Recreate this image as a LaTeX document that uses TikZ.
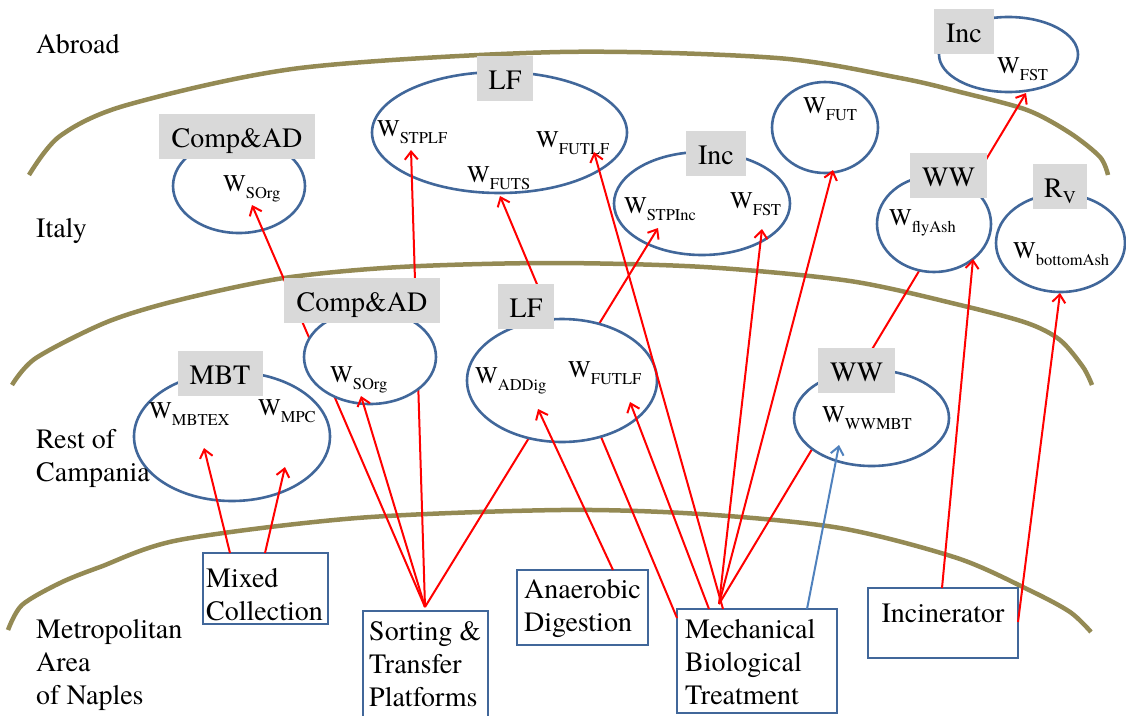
\documentclass[tikz,border=0pt]{standalone}
\usepackage{fontspec}
\setmainfont{texgyretermes}[Extension=.otf, UprightFont=*-regular, BoldFont=*-bold, ItalicFont=*-italic, BoldItalicFont=*-bolditalic]
\usetikzlibrary{shapes.geometric,arrows.meta,calc}

\definecolor{zoneline}{HTML}{948A54}
\definecolor{poolblue}{HTML}{41679A}
\definecolor{flowred}{HTML}{FF0000}
\definecolor{flowblue}{HTML}{4F81BD}
\definecolor{tagfill}{HTML}{D9D9D9}

% waste stream symbol with a subscript
\newcommand{\Wv}[1]{W\raisebox{-7.5pt}{\fontsize{16.5}{18}\selectfont #1}}
% stacked lines, baseline at the first line
\newcommand{\lines}[1]{\begin{tabular}[t]{@{}l@{}}#1\end{tabular}}

\tikzset{
  zone/.style={draw=zoneline, line width=4.5pt},
  pool/.style={ellipse, draw=poolblue, line width=2.6pt, fill=white, inner sep=0pt, outer sep=0pt},
  tag/.style={fill=tagfill, inner sep=0pt, minimum height=45pt, text height=22pt, text depth=0pt,
    font=\rmfamily\fontsize{28}{33}\selectfont},
  plant/.style={draw=poolblue, line width=2.6pt, fill=white, inner sep=0pt, outer sep=0pt, anchor=north west},
  qty/.style={anchor=base west, inner sep=0pt, font=\rmfamily\fontsize{24}{28}\selectfont},
  txt/.style={anchor=base west, inner sep=0pt, font=\rmfamily\fontsize{28}{33}\selectfont},
  flow/.style={draw=flowred, line width=2pt, -{Straight Barb[length=8pt,width=13pt]}},
  flowb/.style={flow, draw=flowblue},
}

\begin{document}
\begin{tikzpicture}[x=1pt,y=-1pt]
\useasboundingbox (0,0) rectangle (1126,715);
\clip (0,0) rectangle (1126,715);

% ---- zone borders ----
\draw[zone] plot[smooth,tension=0.5] coordinates {(29,175) (60,136) (127,105) (300,68) (560,52) (777,58) (900,78) (960,92) (1027,110) (1070,133) (1100,157) (1108,175)};
\draw[zone] plot[smooth,tension=0.5] coordinates {(12,385) (36,358) (107,322) (179,300) (284,278) (400,267) (550,263) (704,267) (850,281) (960,305) (1027,323) (1060,340) (1083,367) (1092,385)};
\draw[zone] plot[smooth,tension=0.5] coordinates {(8,630) (22,605) (60,583) (100,567) (179,540) (357,518) (560,510) (700,514) (840,528) (957,558) (1029,590) (1070,612) (1091,632)};

% ---- plants ----
\node[plant, minimum width=125pt, minimum height=71pt]  (mixed)   at (203,553) {};
\node[plant, minimum width=125pt, minimum height=112pt] (sorting) at (363,611) {};
\node[plant, minimum width=131pt, minimum height=75pt]  (anaer)   at (517,570) {};
\node[plant, minimum width=160pt, minimum height=104pt] (mbt)     at (677,609) {};
\node[plant, minimum width=150pt, minimum height=70pt]  (incin)   at (868,588) {};

\node[txt] (mixed-t)   at (206,587) {\lines{Mixed\\Collection}};
\node[txt] (sorting-t) at (369,640) {\lines{Sorting \&\\Transfer\\Platforms}};
\node[txt] (anaer-t)   at (524,598) {\lines{Anaerobic\\Digestion}};
\node[txt] (mbt-t)     at (685,638) {\lines{Mechanical\\Biological\\Treatment}};
\node[txt, anchor=base] (incin-t) at (943,622) {Incinerator};

\coordinate (sortHub) at ($(sorting.north west)+(62,-4)$);
\coordinate (mbtHub)  at ($(mbt.north west)+(42,-5)$);

% ---- arrow targets ----
\coordinate (tMBTEX)  at (204,448);
\coordinate (tMPC)    at (285,467);
\coordinate (tSOrgI)  at (252,205);
\coordinate (tSOrgR)  at (361,396);
\coordinate (tSTPLF)  at (411,150);
\coordinate (tSTPInc) at (658,228);
\coordinate (tFUTS)   at (500,196);
\coordinate (tADDig)  at (538,409);
\coordinate (tFUTLFR) at (630,402);
\coordinate (tFUTLFI) at (594,152);
\coordinate (tFSTI)   at (762,229);
\coordinate (tFUT)    at (833,170);
\coordinate (tFSTA)   at (1026,93);
\coordinate (tFly)    at (973,259);
\coordinate (tBottom) at (1060,293);
\coordinate (tWWMBT)  at (839,445);

% ---- pools in Italy and abroad ----
\node[pool, minimum width=132pt, minimum height=94pt]  (compI) at (239,186) {};
\node[tag, minimum width=156pt] (compI-l) at (237,136) {Comp\&AD};
\node[qty] (compI-w) at (223,191) {\Wv{SOrg}};

\node[pool, minimum width=255pt, minimum height=121pt] (lfI) at (499.5,132.5) {};
\node[tag, minimum width=56pt] (lfI-l) at (505,78) {LF};
\node[qty] (lfI-w1) at (377,136) {\Wv{STPLF}};
\node[qty] (lfI-w2) at (536,147) {\Wv{FUTLF}};
\node[qty] (lfI-w3) at (467,182) {\Wv{FUTS}};

\node[pool, minimum width=176pt, minimum height=103pt] (incI) at (702,203.5) {};
\node[tag, minimum width=60pt] (incI-l) at (716,153) {Inc};
\node[qty] (incI-w1) at (624,213) {\Wv{STPInc}};
\node[qty] (incI-w2) at (730,208) {\Wv{FST}};

\node[pool, minimum width=106pt, minimum height=91pt] (futI) at (825,127.5) {};
\node[qty] (futI-w) at (803,113) {\Wv{FUT}};

\node[pool, minimum width=139pt, minimum height=75pt] (incA) at (1008.5,54.5) {};
\node[tag, minimum width=60pt] (incA-l) at (964,31.5) {Inc};
\node[qty] (incA-w) at (997,73) {\Wv{FST}};

\node[pool, minimum width=129pt, minimum height=98pt] (rv) at (1060.5,243) {};
\node[tag, minimum width=54pt] (rv-l) at (1060,186) {R\raisebox{-6pt}{\fontsize{18}{18}\selectfont V}};
\node[qty] (rv-w) at (1013,258) {\Wv{bottomAsh}};

% ---- flows that run behind the lower pools ----
\draw[flow] (sortHub) -- (tSOrgI);
\draw[flow] (sortHub) -- (tSTPLF);
\draw[flow] (sortHub) -- (tSTPInc);
\draw[flow] ($(mbt.north west)+(0,9)$) -- (tFUTS);
\draw[flow] (mbtHub) -- (tFSTA);

% ---- pools in Italy (ash) and in the rest of Campania ----
\node[pool, minimum width=114pt, minimum height=96pt] (wwI) at (934,224) {};
\node[tag, minimum width=77pt] (wwI-l) at (948.5,175.5) {WW};
\node[qty] (wwI-w) at (889,225) {\Wv{flyAsh}};

\node[pool, minimum width=196pt, minimum height=129pt] (mbtR) at (232,436.5) {};
\node[tag, minimum width=85pt] (mbtR-l) at (220,373.5) {MBT};
\node[qty] (mbtR-w1) at (149,418) {\Wv{MBTEX}};
\node[qty] (mbtR-w2) at (258,415) {\Wv{MPC}};

\node[pool, minimum width=132pt, minimum height=94pt] (compR) at (370,357) {};
\node[tag, minimum width=156pt] (compR-l) at (362,300) {Comp\&AD};
\node[qty] (compR-w) at (330,382) {\Wv{SOrg}};

\node[pool, minimum width=190pt, minimum height=123pt] (lfR) at (562,380.5) {};
\node[tag, minimum width=56pt] (lfR-l) at (526,306.5) {LF};
\node[qty] (lfR-w1) at (475,383) {\Wv{ADDig}};
\node[qty] (lfR-w2) at (568,377) {\Wv{FUTLF}};

\node[pool, minimum width=155pt, minimum height=96pt] (wwR) at (871.5,418) {};
\node[tag, minimum width=77pt] (wwR-l) at (856.5,370) {WW};
\node[qty] (wwR-w) at (822,422) {\Wv{WWMBT}};

% ---- remaining flows ----
\draw[flow] ($(mixed.north west)+(27,0)$) -- (tMBTEX);
\draw[flow] ($(mixed.north west)+(62,0)$) -- (tMPC);
\draw[flow] (sortHub) -- (tSOrgR);
\draw[flow] ($(anaer.north west)+(96,0)$) -- (tADDig);
\draw[flow] ($(mbt.north west)+(32,0)$) -- (tFUTLFR);
\draw[flow] ($(mbt.north west)+(46,0)$) -- (tFUTLFI);
\draw[flow] (mbtHub) -- (tFSTI);
\draw[flow] (mbtHub) -- (tFUT);
\draw[flowb] ($(mbt.north west)+(130,0)$) -- (tWWMBT);
\draw[flow] ($(incin.north west)+(74,0)$) -- (tFly);
\draw[flow] ($(incin.north east)+(0,34)$) -- (tBottom);

% ---- zone names ----
\node[txt] (z-abroad) at (36,53)  {Abroad};
\node[txt] (z-italy)  at (36,237) {Italy};
\node[txt] (z-rest)   at (36,448) {\lines{Rest of\\Campania}};
\node[txt] (z-naples) at (36,638) {\lines{Metropolitan\\Area\\of Naples}};
\end{tikzpicture}
\end{document}
